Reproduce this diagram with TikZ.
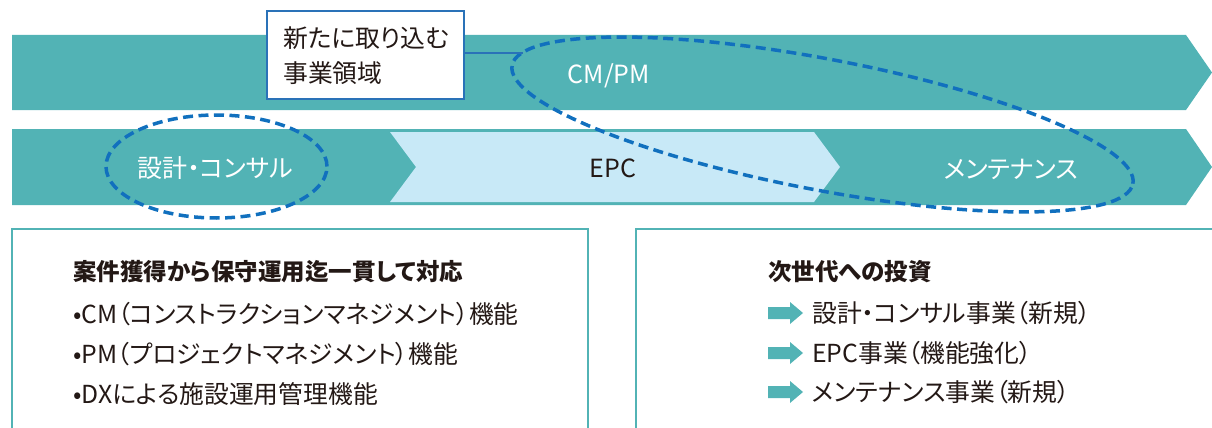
\documentclass[tikz,border=0pt]{standalone}
\usepackage{fontspec}
\setmainfont{Noto Sans CJK JP}[RawFeature={+palt}]
\usetikzlibrary{shapes.geometric}
\definecolor{tealband}{HTML}{52B3B5}
\definecolor{lightband}{HTML}{C8E9F7}
\definecolor{dashblue}{HTML}{1170BE}
\definecolor{boxblue}{HTML}{2A72B8}
\definecolor{ink}{HTML}{231815}
\begin{document}
\begin{tikzpicture}[x=1pt,y=1pt,
  bandtext/.style={text=white,font=\fontsize{25}{29}\selectfont,inner sep=0},
  dashring/.style={draw=dashblue,line width=3.5pt,dash pattern=on 10pt off 5.5pt,ellipse,inner sep=0},
  body/.style={text=ink,font=\fontsize{24.8}{29}\selectfont,anchor=base west,inner sep=0},
  heading/.style={text=ink,font=\fontsize{23.5}{28}\selectfont\bfseries,anchor=base west,inner sep=0},
  panel/.style={draw=tealband,line width=2pt},
  tarrow/.pic={\fill[tealband] (0,-6) -- (22,-6) -- (22,-11) -- (35,0) -- (22,11) -- (22,6) -- (0,6) -- cycle;}
]
\useasboundingbox (0,0) rectangle (1212,-428);
% bands
\fill[tealband] (12,-35) -- (1186,-35) -- (1212,-72.5) -- (1186,-110) -- (12,-110) -- cycle;
\fill[tealband] (12,-129) -- (1186,-129) -- (1212,-167) -- (1186,-205) -- (12,-205) -- cycle;
\fill[lightband] (390,-132) -- (814,-132) -- (840,-167) -- (814,-202) -- (390,-202) -- (416,-167) -- cycle;
% band labels
\node[bandtext] (cmpm) at (609,-76) {CM/PM};
\node[bandtext] (consul) at (215,-168) {設計・コンサル};
\node[bandtext,text=ink] (epc) at (613,-168) {EPC};
\node[bandtext] (maint) at (1011,-169) {メンテナンス};
% dashed ellipses
\node[dashring,minimum width=221pt,minimum height=103pt] (ring1) at (216.5,-166.5) {};
\node[dashring,minimum width=632pt,minimum height=131pt,rotate=-10.8] (ring2) at (822.5,-124.5) {};
% callout box
\node[draw=boxblue,fill=white,line width=2pt,minimum width=197pt,minimum height=88pt,inner sep=0] (callout) at (365.5,-55) {};
\node[body] (c1) at (283,-48) {新たに取り込む};
\node[body] (c2) at (283,-82) {事業領域};
\coordinate (join) at (523,-53);
\draw[boxblue,line width=2pt] (callout.east |- join) -- (join);
% panels
\draw[panel] (12,-428) -- (12,-229) -- (588,-229) -- (588,-428);
\draw[panel] (636,-428) -- (636,-229) -- (1214,-229);
% left panel text
\node[heading] (lh) at (73,-280) {案件獲得から保守運用迄一貫して対応};
\node[body] (l1) at (73,-323) {•CM（コンストラクションマネジメント）機能};
\node[body] (l2) at (73,-363) {•PM（プロジェクトマネジメント）機能};
\node[body] (l3) at (73,-403) {•DXによる施設運用管理機能};
% right panel text
\node[heading] (rh) at (768,-280) {次世代への投資};
\pic at (768,-313) {tarrow};
\pic at (768,-353) {tarrow};
\pic at (768,-392) {tarrow};
\node[body] (r1) at (812,-322) {設計・コンサル事業（新規）};
\node[body] (r2) at (812,-362) {EPC事業（機能強化）};
\node[body] (r3) at (812,-401) {メンテナンス事業（新規）};
\end{tikzpicture}
\end{document}
